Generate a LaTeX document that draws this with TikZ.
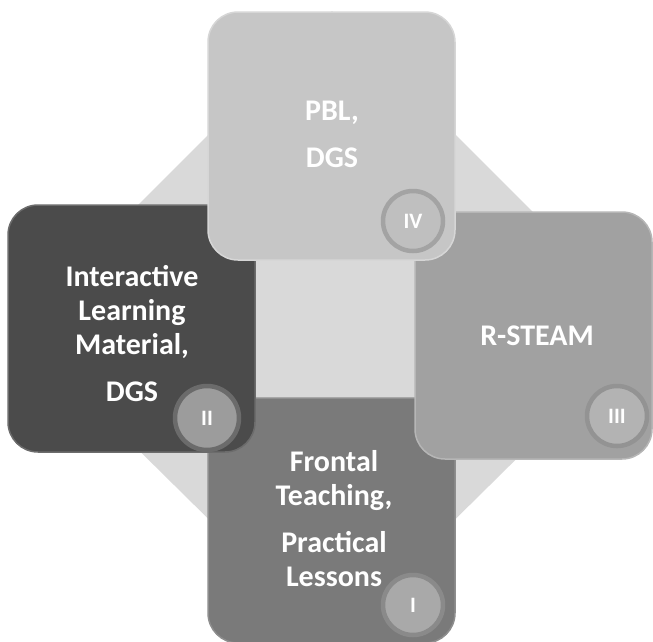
\documentclass[tikz,border=0pt]{standalone}
\usepackage{fontspec}
\setmainfont{Carlito}

\definecolor{backdrop}{HTML}{D9D9D9}
\definecolor{tileone}{HTML}{7A7A7A}
\definecolor{rimone}{HTML}{8E8E8E}
\definecolor{tiletwo}{HTML}{4B4B4B}
\definecolor{rimtwo}{HTML}{6C6C6C}
\definecolor{tilethree}{HTML}{A1A1A1}
\definecolor{rimthree}{HTML}{B6B6B6}
\definecolor{tilefour}{HTML}{C6C6C6}
\definecolor{rimfour}{HTML}{D6D6D6}
\definecolor{badgeone}{HTML}{A9A9A9}
\definecolor{ringone}{HTML}{8A8A8A}
\definecolor{badgetwo}{HTML}{9C9C9C}
\definecolor{ringtwo}{HTML}{6B6B6B}
\definecolor{badgethree}{HTML}{B3B3B3}
\definecolor{ringthree}{HTML}{939393}
\definecolor{badgefour}{HTML}{BFBFBF}
\definecolor{ringfour}{HTML}{A3A3A3}

\begin{document}
\begin{tikzpicture}[x=1pt, y=-1pt,
    tile/.style={rectangle, rounded corners=30pt, line width=1.5pt, inner sep=0pt},
    badge/.style={circle, minimum size=60pt, line width=4.5pt, inner sep=0pt,
      text=white, font=\bfseries\fontsize{22}{26}\selectfont},
    caption/.style={text=white, align=center, inner sep=0pt,
      font=\bfseries\fontsize{30}{34}\selectfont}]
  \useasboundingbox (0,0) rectangle (653,641);

  % diamond behind the four tiles
  \fill[backdrop] (15,328) -- (332,11) -- (649,328) -- (332,641) -- cycle;

  % tile I (bottom)
  \node[tile, fill=tileone, draw=rimone, minimum width=247pt, minimum height=245pt] (tileI) at (331.5,520.5) {};
  \node[badge, fill=badgeone, draw=ringone] (badgeI) at (413,605) {I};
  \node[caption] (textI) at (334,518.5) {Frontal\\Teaching,\\[13pt]Practical\\Lessons};

  % tile II (left)
  \node[tile, fill=tiletwo, draw=rimtwo, minimum width=247pt, minimum height=247pt] (tileII) at (131.5,328.5) {};
  \node[badge, fill=badgetwo, draw=ringtwo, minimum size=64pt] (badgeII) at (207,418) {II};
  \node[caption] (textII) at (132,334) {Interactive\\Learning\\Material,\\[13pt]DGS};

  % tile III (right)
  \node[tile, fill=tilethree, draw=rimthree, minimum width=237pt, minimum height=247pt] (tileIII) at (533.5,335.5) {};
  \node[badge, fill=badgethree, draw=ringthree] (badgeIII) at (617,416) {III};
  \node[caption] (textIII) at (537,336) {R-STEAM};

  % tile IV (top)
  \node[tile, fill=tilefour, draw=rimfour, minimum width=247pt, minimum height=248pt] (tileIV) at (331.5,136) {};
  \node[badge, fill=badgefour, draw=ringfour] (badgeIV) at (413,221) {IV};
  \node[caption] (textIV) at (332,134) {PBL,\\[13pt]DGS};
\end{tikzpicture}
\end{document}
